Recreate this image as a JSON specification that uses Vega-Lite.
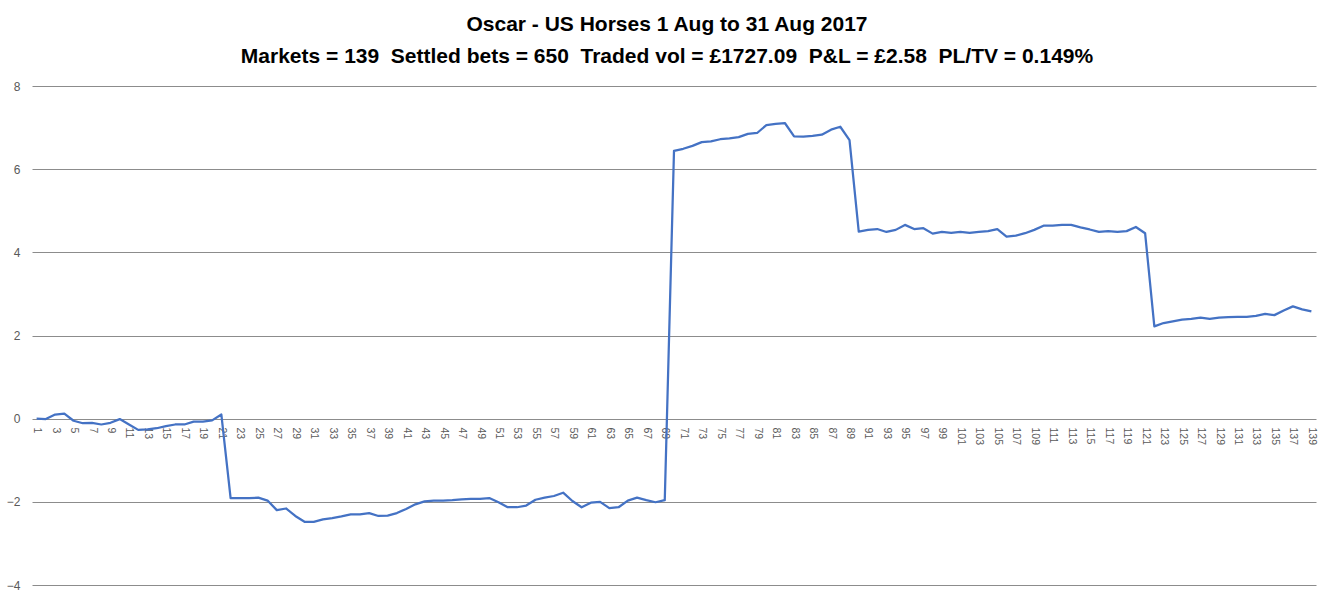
{
  "$schema": "https://vega.github.io/schema/vega-lite/v6.json",
  "width": 1284,
  "height": 499,
  "autosize": {"type": "none"},
  "padding": {"left": 32, "top": 86, "right": 18, "bottom": 16},
  "background": "white",
  "title": {
    "text": ["Oscar - US Horses 1 Aug to 31 Aug 2017", "Markets = 139\u00a0\u00a0Settled bets = 650\u00a0\u00a0Traded vol = £1727.09\u00a0\u00a0P&L = £2.58\u00a0\u00a0PL/TV = 0.149%"],
    "font": "Liberation Sans Narrow, Liberation Sans",
    "fontSize": 21,
    "fontWeight": "bold",
    "color": "#000000",
    "anchor": "middle",
    "dx": -7,
    "offset": 13,
    "lineHeight": 32
  },
  "data": {"values": [
    {"m":1,"v":0},{"m":2,"v":-0.01},{"m":3,"v":0.1},{"m":4,"v":0.12},{"m":5,"v":-0.05},{"m":6,"v":-0.11},{"m":7,"v":-0.1},{"m":8,"v":-0.14},{"m":9,"v":-0.1},{"m":10,"v":-0.01},
    {"m":11,"v":-0.14},{"m":12,"v":-0.27},{"m":13,"v":-0.26},{"m":14,"v":-0.23},{"m":15,"v":-0.18},{"m":16,"v":-0.14},{"m":17,"v":-0.14},{"m":18,"v":-0.07},{"m":19,"v":-0.07},{"m":20,"v":-0.04},
    {"m":21,"v":0.1},{"m":22,"v":-1.91},{"m":23,"v":-1.91},{"m":24,"v":-1.91},{"m":25,"v":-1.9},{"m":26,"v":-1.97},{"m":27,"v":-2.2},{"m":28,"v":-2.16},{"m":29,"v":-2.34},{"m":30,"v":-2.48},
    {"m":31,"v":-2.48},{"m":32,"v":-2.42},{"m":33,"v":-2.39},{"m":34,"v":-2.35},{"m":35,"v":-2.3},{"m":36,"v":-2.3},{"m":37,"v":-2.27},{"m":38,"v":-2.34},{"m":39,"v":-2.33},{"m":40,"v":-2.27},
    {"m":41,"v":-2.17},{"m":42,"v":-2.06},{"m":43,"v":-1.99},{"m":44,"v":-1.97},{"m":45,"v":-1.97},{"m":46,"v":-1.96},{"m":47,"v":-1.94},{"m":48,"v":-1.93},{"m":49,"v":-1.93},{"m":50,"v":-1.91},
    {"m":51,"v":-2.01},{"m":52,"v":-2.13},{"m":53,"v":-2.13},{"m":54,"v":-2.09},{"m":55,"v":-1.95},{"m":56,"v":-1.9},{"m":57,"v":-1.86},{"m":58,"v":-1.78},{"m":59,"v":-1.98},{"m":60,"v":-2.13},
    {"m":61,"v":-2.02},{"m":62,"v":-2.0},{"m":63,"v":-2.15},{"m":64,"v":-2.13},{"m":65,"v":-1.97},{"m":66,"v":-1.9},{"m":67,"v":-1.96},{"m":68,"v":-2.01},{"m":69,"v":-1.96},{"m":70,"v":6.44},
    {"m":71,"v":6.49},{"m":72,"v":6.56},{"m":73,"v":6.65},{"m":74,"v":6.67},{"m":75,"v":6.72},{"m":76,"v":6.74},{"m":77,"v":6.77},{"m":78,"v":6.85},{"m":79,"v":6.87},{"m":80,"v":7.06},
    {"m":81,"v":7.09},{"m":82,"v":7.11},{"m":83,"v":6.79},{"m":84,"v":6.78},{"m":85,"v":6.8},{"m":86,"v":6.83},{"m":87,"v":6.95},{"m":88,"v":7.02},{"m":89,"v":6.7},{"m":90,"v":4.5},
    {"m":91,"v":4.54},{"m":92,"v":4.56},{"m":93,"v":4.49},{"m":94,"v":4.54},{"m":95,"v":4.66},{"m":96,"v":4.56},{"m":97,"v":4.58},{"m":98,"v":4.45},{"m":99,"v":4.49},{"m":100,"v":4.47},
    {"m":101,"v":4.49},{"m":102,"v":4.47},{"m":103,"v":4.49},{"m":104,"v":4.51},{"m":105,"v":4.56},{"m":106,"v":4.38},{"m":107,"v":4.4},{"m":108,"v":4.46},{"m":109,"v":4.54},{"m":110,"v":4.64},
    {"m":111,"v":4.64},{"m":112,"v":4.66},{"m":113,"v":4.66},{"m":114,"v":4.6},{"m":115,"v":4.55},{"m":116,"v":4.49},{"m":117,"v":4.51},{"m":118,"v":4.49},{"m":119,"v":4.51},{"m":120,"v":4.61},
    {"m":121,"v":4.46},{"m":122,"v":2.22},{"m":123,"v":2.3},{"m":124,"v":2.34},{"m":125,"v":2.38},{"m":126,"v":2.4},{"m":127,"v":2.43},{"m":128,"v":2.4},{"m":129,"v":2.43},{"m":130,"v":2.44},
    {"m":131,"v":2.45},{"m":132,"v":2.45},{"m":133,"v":2.47},{"m":134,"v":2.52},{"m":135,"v":2.49},{"m":136,"v":2.6},{"m":137,"v":2.7},{"m":138,"v":2.63},{"m":139,"v":2.58}
  ]},
  "mark": {"type": "line", "color": "#4472C4", "strokeWidth": 2.25, "strokeJoin": "round"},
  "encoding": {
    "x": {
      "field": "m",
      "type": "quantitative",
      "scale": {"domain": [0.5, 139.5], "nice": false, "zero": false},
      "axis": {
        "title": null,
        "orient": "bottom",
        "offset": -166,
        "grid": false,
        "domain": false,
        "ticks": false,
        "labelAngle": 90,
        "labelAlign": "left",
        "labelBaseline": "middle",
        "labelPadding": 8,
        "labelFont": "Liberation Sans",
        "labelFontSize": 10.5,
        "labelColor": "#595959",
        "labelOverlap": false,
        "format": "d",
        "values": [1,3,5,7,9,11,13,15,17,19,21,23,25,27,29,31,33,35,37,39,41,43,45,47,49,51,53,55,57,59,61,63,65,67,69,71,73,75,77,79,81,83,85,87,89,91,93,95,97,99,101,103,105,107,109,111,113,115,117,119,121,123,125,127,129,131,133,135,137,139]
      }
    },
    "y": {
      "field": "v",
      "type": "quantitative",
      "scale": {"domain": [-4, 8], "nice": false},
      "axis": {
        "title": null,
        "values": [-4, -2, 0, 2, 4, 6, 8],
        "domain": false,
        "ticks": false,
        "grid": true,
        "gridColor": "#8c8c8c",
        "gridWidth": 1,
        "gridOpacity": 1,
        "labelPadding": 12,
        "labelFont": "Liberation Sans",
        "labelFontSize": 12,
        "labelColor": "#595959"
      }
    }
  },
  "config": {"view": {"stroke": null}}
}
